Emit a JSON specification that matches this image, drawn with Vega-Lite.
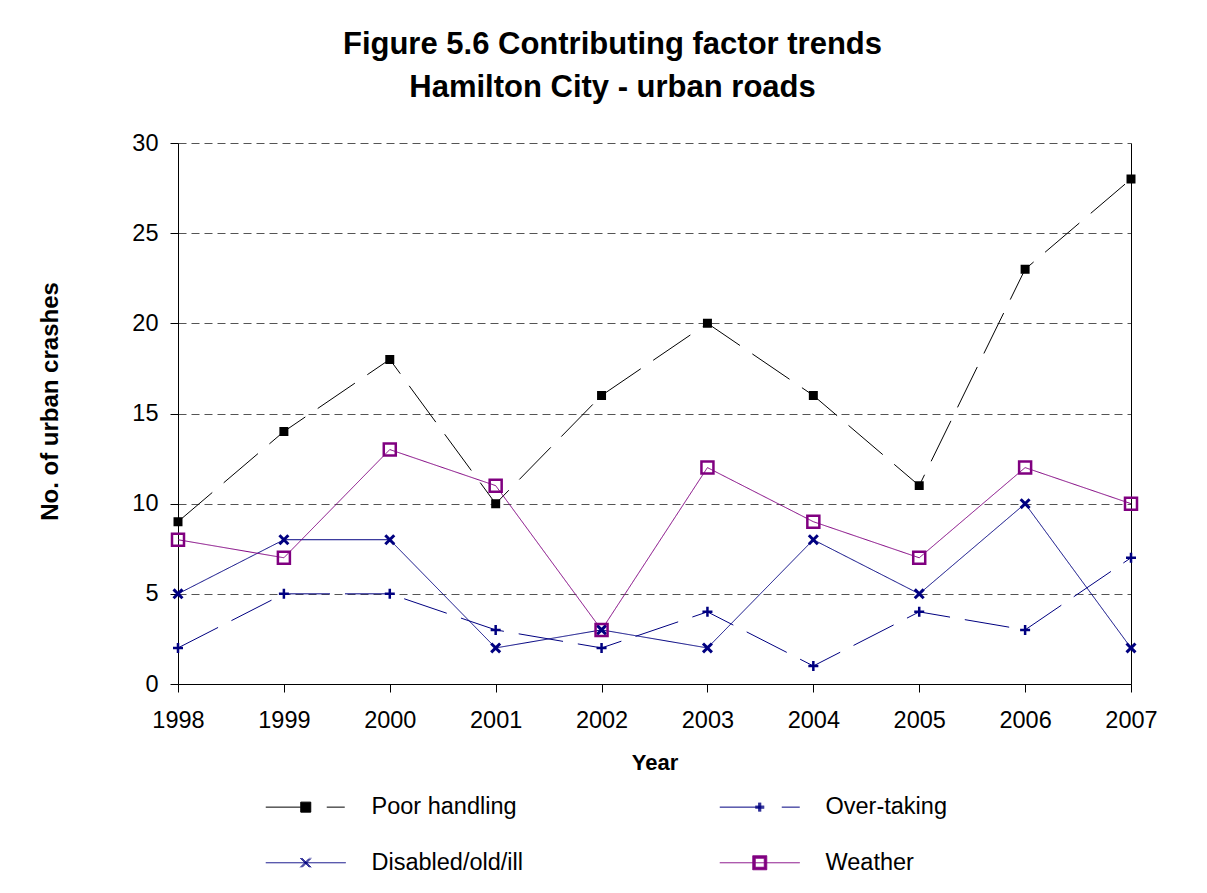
{
  "$schema": "https://vega.github.io/schema/vega-lite/v6.json",
  "width": 953,
  "height": 541,
  "autosize": {"type": "none"},
  "padding": {"left": 178, "top": 143, "right": 76, "bottom": 209},
  "background": "white",
  "config": {"view": {"stroke": null}, "font": "Liberation Sans"},
  "title": {
    "text": ["Figure 5.6 Contributing factor trends", "Hamilton City - urban roads"],
    "fontSize": 31,
    "fontWeight": "bold",
    "font": "Liberation Sans",
    "lineHeight": 43,
    "anchor": "middle",
    "dx": -42,
    "offset": 27,
    "color": "black"
  },
  "data": {
    "values": [
      {"year": "1998", "series": "Poor handling", "value": 9},
      {"year": "1999", "series": "Poor handling", "value": 14},
      {"year": "2000", "series": "Poor handling", "value": 18},
      {"year": "2001", "series": "Poor handling", "value": 10},
      {"year": "2002", "series": "Poor handling", "value": 16},
      {"year": "2003", "series": "Poor handling", "value": 20},
      {"year": "2004", "series": "Poor handling", "value": 16},
      {"year": "2005", "series": "Poor handling", "value": 11},
      {"year": "2006", "series": "Poor handling", "value": 23},
      {"year": "2007", "series": "Poor handling", "value": 28},
      {"year": "1998", "series": "Over-taking", "value": 2},
      {"year": "1999", "series": "Over-taking", "value": 5},
      {"year": "2000", "series": "Over-taking", "value": 5},
      {"year": "2001", "series": "Over-taking", "value": 3},
      {"year": "2002", "series": "Over-taking", "value": 2},
      {"year": "2003", "series": "Over-taking", "value": 4},
      {"year": "2004", "series": "Over-taking", "value": 1},
      {"year": "2005", "series": "Over-taking", "value": 4},
      {"year": "2006", "series": "Over-taking", "value": 3},
      {"year": "2007", "series": "Over-taking", "value": 7},
      {"year": "1998", "series": "Disabled/old/ill", "value": 5},
      {"year": "1999", "series": "Disabled/old/ill", "value": 8},
      {"year": "2000", "series": "Disabled/old/ill", "value": 8},
      {"year": "2001", "series": "Disabled/old/ill", "value": 2},
      {"year": "2002", "series": "Disabled/old/ill", "value": 3},
      {"year": "2003", "series": "Disabled/old/ill", "value": 2},
      {"year": "2004", "series": "Disabled/old/ill", "value": 8},
      {"year": "2005", "series": "Disabled/old/ill", "value": 5},
      {"year": "2006", "series": "Disabled/old/ill", "value": 10},
      {"year": "2007", "series": "Disabled/old/ill", "value": 2},
      {"year": "1998", "series": "Weather", "value": 8},
      {"year": "1999", "series": "Weather", "value": 7},
      {"year": "2000", "series": "Weather", "value": 13},
      {"year": "2001", "series": "Weather", "value": 11},
      {"year": "2002", "series": "Weather", "value": 3},
      {"year": "2003", "series": "Weather", "value": 12},
      {"year": "2004", "series": "Weather", "value": 9},
      {"year": "2005", "series": "Weather", "value": 7},
      {"year": "2006", "series": "Weather", "value": 12},
      {"year": "2007", "series": "Weather", "value": 10}
    ]
  },
  "layer": [
    {
      "mark": {"type": "line", "strokeWidth": 1},
      "encoding": {
        "x": {
          "field": "year", "type": "ordinal",
          "scale": {"type": "point", "padding": 0},
          "axis": {
            "labelAngle": 0, "labelFontSize": 23.5, "labelColor": "black",
            "tickColor": "black", "domainColor": "black", "tickSize": 8,
            "labelPadding": 16, "title": "Year", "titleFontSize": 22,
            "titleFontWeight": "bold", "titlePadding": 21, "titleColor": "black",
            "grid": false
          }
        },
        "y": {
          "field": "value", "type": "quantitative",
          "scale": {"domain": [0, 30], "nice": false},
          "axis": {
            "values": [0, 5, 10, 15, 20, 25, 30],
            "grid": true, "gridDash": [8, 5], "gridColor": "#555555", "gridWidth": 1,
            "tickSize": 8, "tickColor": "black", "domainColor": "black",
            "labelFontSize": 23.5, "labelColor": "black", "labelPadding": 12,
            "title": "No. of urban crashes", "titleFontSize": 24,
            "titleFontWeight": "bold", "titleColor": "black", "titlePadding": 72,
            "titleX": -116, "titleY": 258
          }
        },
        "color": {
          "field": "series", "type": "nominal",
          "scale": {
            "domain": ["Poor handling", "Over-taking", "Disabled/old/ill", "Weather"],
            "range": ["#000000", "#000080", "#000080", "#800080"]
          },
          "legend": {
            "orient": "none", "legendX": 116, "legendY": 652,
            "direction": "horizontal",
            "columns": 2, "columnPadding": 193, "rowPadding": 31,
            "symbolSize": 400, "labelFontSize": 23.5, "labelColor": "black",
            "labelOffset": 54, "padding": 0, "title": null,
            "symbolStrokeWidth": 1, "symbolOpacity": 1, "labelLimit": 400,
            "encode": {
              "symbols": {
                "update": {
                  "shape": {"signal": "datum.value === 'Poor handling' ? 'M-4,0L-0.5,0M-0.5,-0.5L0.5,-0.5L0.5,0.5L-0.5,0.5ZM2.1,0L3.9,0' : datum.value === 'Over-taking' ? 'M-4,0L0,0M-0.45,0L0.45,0M-0.45,-0.1L0.45,-0.1M-0.45,0.1L0.45,0.1M0,-0.45L0,0.45M-0.1,-0.45L-0.1,0.45M0.1,-0.45L0.1,0.45M2.2,0L4,0' : datum.value === 'Disabled/old/ill' ? 'M-4,0L4,0M-0.45,-0.45L0.45,0.45M-0.45,0.45L0.45,-0.45M-0.35,-0.45L0.55,0.45M-0.55,-0.45L0.35,0.45M-0.35,0.45L0.55,-0.45M-0.55,0.45L0.35,-0.45' : 'M-4,0L4,0M-0.7,-0.7L0.7,-0.7L0.7,0.7L-0.7,0.7ZM-0.45,-0.45L-0.45,0.45L0.45,0.45L0.45,-0.45Z'"},
                  "fill": {"signal": "scale('color', datum.value)"},
                  "strokeWidth": {"value": 1},
                  "strokeDash": {"value": [1, 0]},
                  "opacity": {"value": 1}
                }
              }
            }
          }
        },
        "strokeDash": {
          "field": "series", "type": "nominal",
          "scale": {
            "domain": ["Poor handling", "Over-taking", "Disabled/old/ill", "Weather"],
            "range": [[45, 15], [45, 15], [1, 0], [1, 0]]
          },
          "legend": null
        }
      }
    },
    {
      "transform": [{"filter": "datum.series === 'Poor handling'"}],
      "mark": {"type": "point", "shape": "square", "filled": true, "fill": "#000000", "stroke": "#000000", "size": 42, "strokeWidth": 2.5, "opacity": 1},
      "encoding": {
        "x": {"field": "year", "type": "ordinal", "scale": {"type": "point", "padding": 0}},
        "y": {"field": "value", "type": "quantitative", "scale": {"domain": [0, 30], "nice": false}, "axis": null}
      }
    },
    {
      "transform": [{"filter": "datum.series === 'Over-taking'"}],
      "mark": {"type": "point", "shape": "M-1,0L1,0M0,-1L0,1", "filled": false, "stroke": "#000080", "size": 100, "strokeWidth": 2.5, "opacity": 1},
      "encoding": {
        "x": {"field": "year", "type": "ordinal", "scale": {"type": "point", "padding": 0}},
        "y": {"field": "value", "type": "quantitative", "scale": {"domain": [0, 30], "nice": false}, "axis": null}
      }
    },
    {
      "transform": [{"filter": "datum.series === 'Disabled/old/ill'"}],
      "mark": {"type": "point", "shape": "M-1,-1L1,1M-1,1L1,-1", "filled": false, "stroke": "#000080", "size": 80, "strokeWidth": 3, "opacity": 1},
      "encoding": {
        "x": {"field": "year", "type": "ordinal", "scale": {"type": "point", "padding": 0}},
        "y": {"field": "value", "type": "quantitative", "scale": {"domain": [0, 30], "nice": false}, "axis": null}
      }
    },
    {
      "transform": [{"filter": "datum.series === 'Weather'"}],
      "mark": {"type": "point", "shape": "square", "filled": false, "stroke": "#800080", "size": 144, "strokeWidth": 2.5, "opacity": 1},
      "encoding": {
        "x": {"field": "year", "type": "ordinal", "scale": {"type": "point", "padding": 0}},
        "y": {
          "field": "value", "type": "quantitative",
          "scale": {"domain": [0, 30], "nice": false},
          "axis": {
            "orient": "right", "labels": false, "ticks": false, "grid": false,
            "domain": true, "domainColor": "black", "title": null
          }
        }
      }
    }
  ],
  "resolve": {"axis": {"y": "independent"}}
}
